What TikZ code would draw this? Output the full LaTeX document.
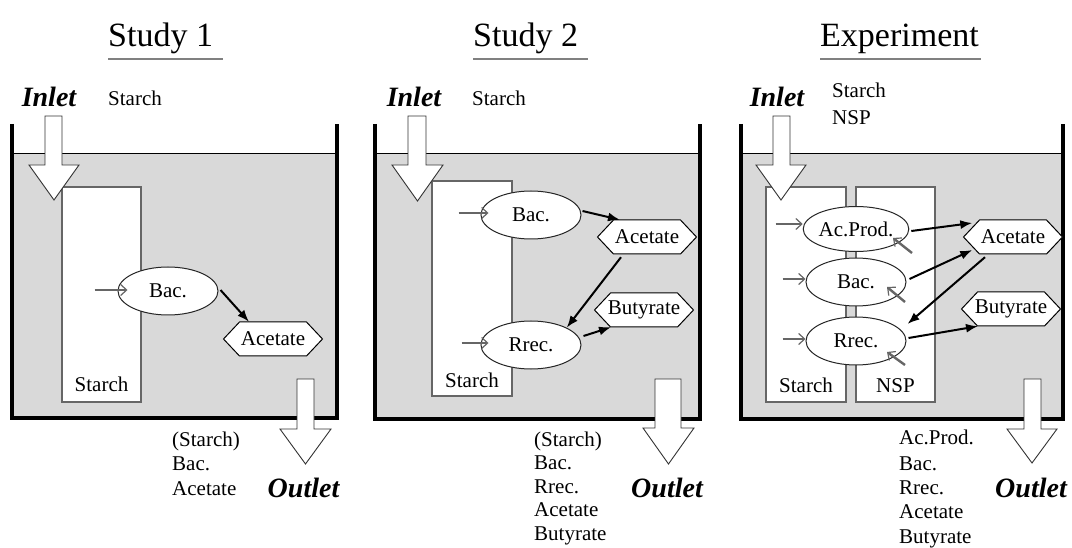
\documentclass[tikz,border=0pt]{standalone}
\usepackage{fontspec}
\setmainfont{Liberation Serif}
\usetikzlibrary{arrows.meta,calc,shapes.geometric}
\definecolor{watergrey}{HTML}{D9D9D9}
\definecolor{gline}{HTML}{666666}
\definecolor{uline}{HTML}{808080}
\newcommand\txtfs{\fontsize{21}{24}\selectfont}
\newcommand\ttlfs{\fontsize{34}{40}\selectfont}
\newcommand\iofs{\fontsize{28}{32}\selectfont\bfseries\itshape}
% hexagon: name, centre, text
\newcommand\hexnode[3]{%
  \filldraw[hexline] ($(#2)+(-49.5,0)$) -- ++(16,-17) -- ++(67,0) -- ++(16,17) -- ++(-16,17) -- ++(-67,0) -- cycle;
  \node[hexa] (#1) at (#2) {#3};}
\begin{document}
\begin{tikzpicture}[x=1pt,y=-1pt,
  wallline/.style={line width=3.5pt, line join=miter},
  waterline/.style={line width=1pt},
  blockarr/.style={fill=white, draw=black!80, line width=0.9pt, line join=miter},
  colbox/.style={rectangle, fill=white, draw=gline, line width=1.2pt, inner sep=0pt},
  ell/.style={ellipse, fill=white, draw=black!85, line width=1pt, minimum width=100, minimum height=48, inner sep=0pt, font=\txtfs},
  hexline/.style={fill=white, draw=black, line width=1pt, line join=miter},
  hexa/.style={rectangle, minimum width=99, minimum height=34, inner sep=0pt, font=\txtfs},
  barr/.style={-{Latex[length=12pt,width=9pt]}, line width=2pt, black},
  garr/.style={-{Straight Barb[length=6pt,width=11pt,line width=1.2pt]}, line width=2.4pt, draw=gline},
  txt/.style={inner sep=0pt, font=\txtfs},
  ttl/.style={inner sep=0pt, font=\ttlfs},
  iolbl/.style={inner sep=0pt, font=\iofs},
  uln/.style={line width=2.5pt, draw=uline}
]
\useasboundingbox (0,0) rectangle (1072,548);

% ---------------- titles
\node[ttl, anchor=base west] (t1) at (108,47) {Study 1};
\node[ttl, anchor=base west] (t2) at (473,47) {Study 2};
\node[ttl, anchor=base west] (t3) at (820,47) {Experiment};
\draw[uln] ($(t1.base west)+(0,12)$) -- ($(t1.base east)+(10,12)$);
\draw[uln] ($(t2.base west)+(0,12)$) -- ($(t2.base east)+(10,12)$);
\draw[uln] ($(t3.base west)+(0,12)$) -- ($(t3.base east)+(2,12)$);

% ---------------- tanks
\fill[watergrey] (12,154) rectangle (337,418);
\draw[waterline] (12,154) -- (337,154);
\draw[wallline] (12,124) -- (12,418) -- (337,418) -- (337,124);

\fill[watergrey] (375,154) rectangle (700,419);
\draw[waterline] (375,154) -- (700,154);
\draw[wallline] (375,124) -- (375,419) -- (700,419) -- (700,124);

\fill[watergrey] (741,154) rectangle (1063,419);
\draw[waterline] (741,154) -- (1063,154);
\draw[wallline] (741,124) -- (741,419) -- (1063,419) -- (1063,124);

% ---------------- columns
\node[colbox, minimum width=79, minimum height=215] (s1) at (101.5,294.5) {};
\node[txt, anchor=base] (s1l) at ($(s1.south)+(0,-11)$) {Starch};
\node[colbox, minimum width=80, minimum height=215] (s2) at (472,288.5) {};
\node[txt, anchor=base] (s2l) at ($(s2.south)+(0,-9)$) {Starch};
\node[colbox, minimum width=80, minimum height=215] (s3) at (806,294.5) {};
\node[txt, anchor=base] (s3l) at ($(s3.south)+(0,-10)$) {Starch};
\node[colbox, minimum width=79, minimum height=215] (n3) at (895.5,294.5) {};
\node[txt, anchor=base] (n3l) at ($(n3.south)+(0,-10)$) {NSP};

% ---------------- inlet / outlet block arrows
\draw[blockarr] (45,116) -- (62,116) -- (62,165) -- (79,165) -- (54,200) -- (29,165) -- (45,165) -- cycle;
\draw[blockarr] (408,116) -- (426,116) -- (426,165) -- (443,165) -- (417.5,201) -- (392,165) -- (408,165) -- cycle;
\draw[blockarr] (773,116) -- (790,116) -- (790,165) -- (806,165) -- (781,200) -- (756,165) -- (773,165) -- cycle;

\draw[blockarr] (297,379) -- (314,379) -- (314,429) -- (331,429) -- (305.5,464) -- (280,429) -- (297,429) -- cycle;
\draw[blockarr] (655,379) -- (681,379) -- (681,428) -- (694,428) -- (668.5,464) -- (643,428) -- (655,428) -- cycle;
\draw[blockarr] (1024,379) -- (1041,379) -- (1041,429) -- (1057,429) -- (1032,463) -- (1007,429) -- (1024,429) -- cycle;

% ---------------- inlet / outlet labels
\node[iolbl, anchor=base] (in1) at (49,107) {Inlet};
\node[txt, anchor=base west] (in1a) at (108,106) {Starch};
\node[iolbl, anchor=base] (in2) at (414,107) {Inlet};
\node[txt, anchor=base west] (in2a) at (472,106) {Starch};
\node[iolbl, anchor=base] (in3) at (777,107) {Inlet};
\node[txt, anchor=base west] (in3a) at (832,98) {Starch};
\node[txt, anchor=base west] (in3b) at (832,125) {NSP};

\node[iolbl, anchor=base] (out1) at (303.5,497) {Outlet};
\node[iolbl, anchor=base] (out2) at (667,497) {Outlet};
\node[iolbl, anchor=base] (out3) at (1031,497) {Outlet};

\node[txt, anchor=base west] (o1a) at (172,446) {(Starch)};
\node[txt, anchor=base west] (o1b) at (172,470.5) {Bac.};
\node[txt, anchor=base west] (o1c) at (172,495) {Acetate};

\node[txt, anchor=base west] (o2a) at (534,446) {(Starch)};
\node[txt, anchor=base west] (o2b) at (534,469) {Bac.};
\node[txt, anchor=base west] (o2c) at (534,493) {Rrec.};
\node[txt, anchor=base west] (o2d) at (534,516) {Acetate};
\node[txt, anchor=base west] (o2e) at (534,540) {Butyrate};

\node[txt, anchor=base west] (o3a) at (899,444) {Ac.Prod.};
\node[txt, anchor=base west] (o3b) at (899,470) {Bac.};
\node[txt, anchor=base west] (o3c) at (899,494) {Rrec.};
\node[txt, anchor=base west] (o3d) at (899,518) {Acetate};
\node[txt, anchor=base west] (o3e) at (899,543) {Butyrate};

% ---------------- Study 1 network
\node[ell] (bac1) at (168,291) {Bac.};
\hexnode{ace1}{273,339}{Acetate}
\draw[garr] ($(bac1.west)+(-23,-1)$) -- ($(bac1.west)+(10,-1)$);
\draw[barr] ($(bac1.east)+(2,-1)$) -- ($(ace1.north)+(-24,0)$);

% ---------------- Study 2 network
\node[ell] (bac2) at (531,215) {Bac.};
\node[ell] (rrec2) at (531,345) {Rrec.};
\hexnode{ace2}{647,237}{Acetate}
\hexnode{but2}{644,310}{Butyrate}
\draw[garr] ($(bac2.west)+(-22,-2)$) -- ($(bac2.west)+(8,-2)$);
\draw[garr] ($(rrec2.west)+(-19,-2)$) -- ($(rrec2.west)+(8,-2)$);
\draw[barr] ($(bac2.east)+(1,-4)$) -- ($(ace2.north)+(-27,0)$);
\draw[barr] ($(ace2.south)+(-26,3)$) -- (rrec2.north east);
\draw[barr] ($(rrec2.east)+(2,-9)$) -- ($(but2.south)+(-33,0)$);

% ---------------- Experiment network
\node[ell, minimum height=45] (acp3) at (856,229) {Ac.Prod.};
\node[ell] (bac3) at (856,282) {Bac.};
\node[ell] (rrec3) at (856,341) {Rrec.};
\hexnode{ace3}{1013,237}{Acetate}
\hexnode{but3}{1011,309}{Butyrate}
\draw[garr] ($(acp3.west)+(-27,-5)$) -- ($(acp3.west)+(0,-5)$);
\draw[garr] ($(bac3.west)+(-23,-3)$) -- ($(bac3.west)+(0,-3)$);
\draw[garr] ($(rrec3.west)+(-23,-2)$) -- ($(rrec3.west)+(0,-2)$);
\draw[garr] ($(acp3.center)+(56,24)$) -- ($(acp3.center)+(37,9)$);
\draw[garr] ($(bac3.center)+(49,20)$) -- ($(bac3.center)+(31,5)$);
\draw[garr] ($(rrec3.center)+(49,24)$) -- ($(rrec3.center)+(31,11)$);
\draw[barr] ($(acp3.east)+(2,2)$) -- ($(ace3.west)+(9,-14)$);
\draw[barr] ($(bac3.east)+(3,-3)$) -- ($(ace3.west)+(9,13)$);
\draw[barr] ($(ace3.south)+(-28,3)$) -- ($(rrec3.east)+(1,-17)$);
\draw[barr] ($(rrec3.east)+(2,-3)$) -- ($(but3.south)+(-33,0)$);
\end{tikzpicture}
\end{document}
